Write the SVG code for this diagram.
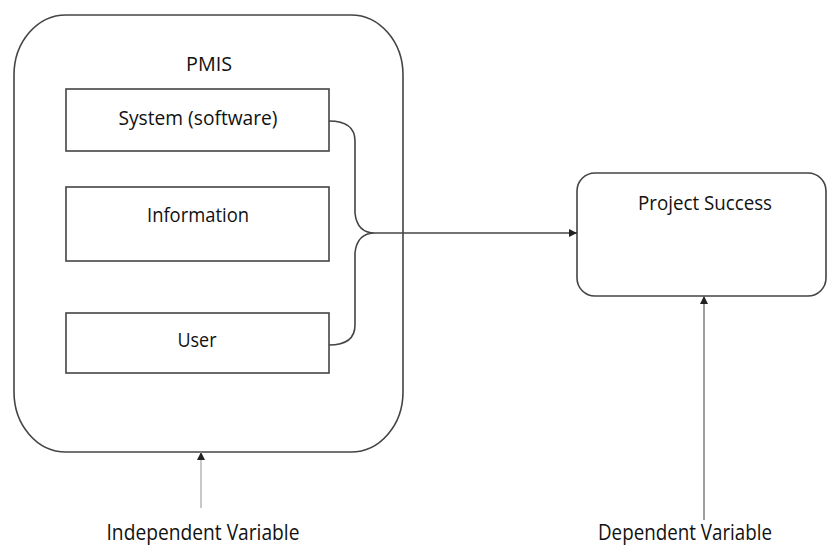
<svg xmlns="http://www.w3.org/2000/svg" width="828" height="547" viewBox="0 0 828 547">
<defs>
<style>
.box{fill:#fff;stroke:#444;stroke-width:1.6}
.t{font-family:"Open Sans","Liberation Sans",sans-serif;fill:#111;text-anchor:middle}
.c{fill:none;stroke:#444;stroke-width:1.6}
</style>
<marker id="ah" viewBox="0 0 10 10" refX="10" refY="5" markerWidth="8" markerHeight="8" markerUnits="userSpaceOnUse" orient="auto">
<path d="M0,0 L10,5 L0,10 z" fill="#222"/>
</marker>
</defs>
<rect width="828" height="547" fill="#fff"/>
<g id="pmis">
<rect class="box" x="14" y="15" width="389" height="437" rx="52" ry="60"/>
<text class="t" x="209" y="71" font-size="20" textLength="46" lengthAdjust="spacingAndGlyphs">PMIS</text>
</g>
<g id="system">
<rect class="box" x="66" y="89" width="263" height="62"/>
<text class="t" x="198" y="125" font-size="20" textLength="159" lengthAdjust="spacingAndGlyphs">System (software)</text>
</g>
<g id="information">
<rect class="box" x="66" y="187" width="263" height="74"/>
<text class="t" x="198" y="222" font-size="20" textLength="102" lengthAdjust="spacingAndGlyphs">Information</text>
</g>
<g id="user">
<rect class="box" x="66" y="313" width="263" height="60"/>
<text class="t" x="197" y="347" font-size="20" textLength="39" lengthAdjust="spacingAndGlyphs">User</text>
</g>
<g id="success">
<rect class="box" x="577" y="173" width="249" height="123" rx="18" ry="18"/>
<text class="t" x="705" y="210" font-size="20" textLength="134" lengthAdjust="spacingAndGlyphs">Project Success</text>
</g>
<g id="labels">
<text class="t" x="203" y="540" font-size="21" textLength="193" lengthAdjust="spacingAndGlyphs">Independent Variable</text>
<text class="t" x="685" y="540" font-size="21" textLength="174" lengthAdjust="spacingAndGlyphs">Dependent Variable</text>
</g>
<g id="connectors">
<path class="c" d="M329,121 Q355,121 355,141 L355,213 Q357,233 375,233 Q357,233 355,253 L355,325 Q355,345 329,345"/>
<path class="c" d="M375,233 L577,233" marker-end="url(#ah)"/>
<path d="M201,508 L201,452" fill="none" stroke="#bbb" stroke-width="1.6" marker-end="url(#ah)"/>
<path d="M704,520 L704,296" fill="none" stroke="#777" stroke-width="1.4" marker-end="url(#ah)"/>
</g>
</svg>
